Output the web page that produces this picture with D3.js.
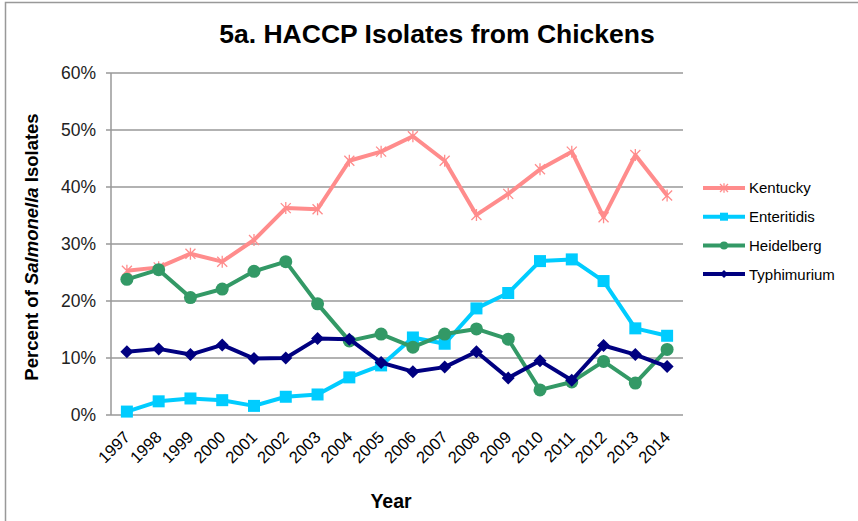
<!DOCTYPE html>
<html>
<head>
<meta charset="utf-8">
<script src="https://cdn.jsdelivr.net/npm/d3@7"></script>
<style>
  body { margin: 0; background: #fff; }
  svg { font-family: Arial, "Liberation Sans", sans-serif; display: block; }
</style>
</head>
<body>
<svg width="858" height="521"></svg>
<script>
// values (percent of isolates)
var years = [1997, 1998, 1999, 2000, 2001, 2002, 2003, 2004, 2005, 2006, 2007, 2008, 2009, 2010, 2011, 2012, 2013, 2014];
var kentucky = [25.3, 25.9, 28.3, 26.9, 30.7, 36.3, 36.1, 44.6, 46.2, 48.9, 44.6, 35.1, 38.8, 43.1, 46.2, 34.7, 45.6, 38.5];
var enteritidis = [0.6, 2.4, 2.9, 2.6, 1.6, 3.2, 3.6, 6.6, 8.7, 13.6, 12.5, 18.7, 21.4, 27.0, 27.3, 23.5, 15.2, 13.9];
var heidelberg = [23.8, 25.5, 20.6, 22.1, 25.2, 26.9, 19.5, 13.0, 14.2, 11.9, 14.2, 15.1, 13.3, 4.4, 5.8, 9.4, 5.6, 11.5];
var typhimurium = [11.1, 11.6, 10.6, 12.3, 9.9, 10.0, 13.4, 13.3, 9.2, 7.6, 8.4, 11.1, 6.5, 9.5, 6.1, 12.2, 10.6, 8.5];
var yTicks = [0, 10, 20, 30, 40, 50, 60];

var series = [
  { name: "Kentucky", values: kentucky, color: "#ff8c8c", marker: "star" },
  { name: "Enteritidis", values: enteritidis, color: "#00ccff", marker: "square" },
  { name: "Heidelberg", values: heidelberg, color: "#339966", marker: "circle" },
  { name: "Typhimurium", values: typhimurium, color: "#000080", marker: "diamond" }
];

var svg = d3.select("svg"),
  plotLeft = 111, plotRight = 683, plotTop = 73, plotBottom = 415;

// outer chart border (only top/left visible in the original)
svg.append("rect")
  .attr("x", 5.5).attr("y", 2.5)
  .attr("width", 900).attr("height", 600)
  .attr("fill", "none")
  .attr("stroke", "#999").attr("stroke-width", 1.5);

var x = d3.scaleBand().domain(years).range([plotLeft, plotRight]);
var y = d3.scaleLinear().domain([0, 60]).range([plotBottom, plotTop]);

// gridlines
svg.append("g")
  .selectAll("line")
  .data(yTicks)
  .enter()
  .append("line")
  .attr("x1", plotLeft - 5).attr("x2", plotRight)
  .attr("y1", function (d) { return y(d); })
  .attr("y2", function (d) { return y(d); })
  .attr("stroke", "#999").attr("stroke-width", 1.5);

// y axis line
svg.append("line")
  .attr("x1", plotLeft).attr("x2", plotLeft)
  .attr("y1", plotTop).attr("y2", plotBottom)
  .attr("stroke", "#999").attr("stroke-width", 1.5);

// y tick labels
svg.append("g")
  .selectAll("text")
  .data(yTicks)
  .enter()
  .append("text")
  .attr("x", plotLeft - 15)
  .attr("y", function (d) { return y(d); })
  .attr("dy", "0.36em")
  .attr("text-anchor", "end")
  .attr("font-size", 17.5)
  .attr("fill", "#222")
  .text(function (d) { return d + "%"; });

// x tick labels
svg.append("g")
  .selectAll("text")
  .data(years)
  .enter()
  .append("text")
  .attr("transform", function (d) {
    return "translate(" + (x(d) + x.bandwidth() / 2 - 4) + "," + (plotBottom + 15) + ") rotate(-45)";
  })
  .attr("text-anchor", "end")
  .attr("dy", "0.7em")
  .attr("font-size", 16.5)
  .attr("fill", "#000")
  .text(function (d) { return d; });

// lines
var cx = function (i) { return x(years[i]) + x.bandwidth() / 2; };
var line = d3.line()
  .x(function (d, i) { return cx(i); })
  .y(function (d) { return y(d); });

function drawMarker(sel, type, color, size) {
  if (type === "star") {
    var r = size;
    sel.append("path")
      .attr("d", "M" + (-r) + "," + (-r) + "L" + r + "," + r + "M" + (-r) + "," + r + "L" + r + "," + (-r) + "M0," + (-r * 1.2) + "L0," + (r * 1.2))
      .attr("stroke", color).attr("stroke-width", 1.3).attr("fill", "none");
  } else if (type === "square") {
    sel.append("rect")
      .attr("x", -size).attr("y", -size)
      .attr("width", size * 2).attr("height", size * 2)
      .attr("fill", color);
  } else if (type === "circle") {
    sel.append("circle").attr("r", size).attr("fill", color);
  } else if (type === "diamond") {
    sel.append("path")
      .attr("d", "M0," + (-size) + "L" + size + ",0L0," + size + "L" + (-size) + ",0Z")
      .attr("fill", color);
  }
}

var markerSize = { star: 5, square: 6, circle: 6.5, diamond: 6.5 };

series.forEach(function (s) {
  var g = svg.append("g");
  g.append("path")
    .datum(s.values)
    .attr("d", line)
    .attr("fill", "none")
    .attr("stroke", s.color)
    .attr("stroke-width", 4)
    .attr("stroke-linejoin", "round");
  g.selectAll("g.pt")
    .data(s.values)
    .enter()
    .append("g")
    .attr("class", "pt")
    .attr("transform", function (d, i) { return "translate(" + cx(i) + "," + y(d) + ")"; })
    .each(function () { drawMarker(d3.select(this), s.marker, s.color, markerSize[s.marker]); });
});

// legend
var legend = svg.append("g")
  .selectAll("g")
  .data(series)
  .enter()
  .append("g")
  .attr("transform", function (d, i) { return "translate(703," + (188 + i * 28.7) + ")"; });

legend.append("line")
  .attr("x1", 0).attr("x2", 42)
  .attr("stroke", function (d) { return d.color; })
  .attr("stroke-width", 4);
legend.append("g")
  .attr("transform", "translate(21,0)")
  .each(function (d) { drawMarker(d3.select(this), d.marker, d.color, 4); });
legend.append("text")
  .attr("x", 46)
  .attr("dy", "0.36em")
  .attr("font-size", 15)
  .attr("fill", "#000")
  .text(function (d) { return d.name; });

// title
svg.append("text")
  .attr("x", 437).attr("y", 43)
  .attr("text-anchor", "middle")
  .attr("font-size", 26.5)
  .attr("font-weight", "bold")
  .text("5a. HACCP Isolates from Chickens");

// y axis title
var yt = svg.append("text")
  .attr("transform", "translate(38,247) rotate(-90)")
  .attr("text-anchor", "middle")
  .attr("font-size", 18.5)
  .attr("font-weight", "bold");
yt.append("tspan").text("Percent of ");
yt.append("tspan").attr("font-style", "italic").text("Salmonella");
yt.append("tspan").text(" Isolates");

// x axis title
svg.append("text")
  .attr("x", 391).attr("y", 508)
  .attr("text-anchor", "middle")
  .attr("font-size", 19.5)
  .attr("font-weight", "bold")
  .text("Year");
</script>
</body>
</html>
